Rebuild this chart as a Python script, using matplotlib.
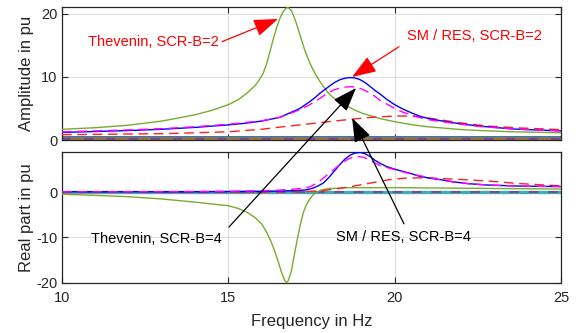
import matplotlib
matplotlib.use("Agg")
import matplotlib.pyplot as plt

plt.rcParams['font.family'] = ['Liberation Sans', 'DejaVu Sans']
plt.rcParams['axes.unicode_minus'] = False

# ---------------- data ----------------
# Amplitude (top)
f_thev2 = [10, 11, 12, 13, 14, 14.5, 15, 15.3, 15.55, 15.8, 15.9, 16.05, 16.15, 16.25, 16.35,
           16.45, 16.55, 16.65, 16.75, 16.8, 16.9, 17.0, 17.1, 17.2, 17.3, 17.45, 17.6, 17.75,
           17.9, 18.05, 18.3, 18.56, 18.8, 19.05, 19.3, 19.56, 20, 20.55, 21.0, 21.56, 22.0,
           22.56, 23.56, 25]
a_thev2 = [1.7, 1.95, 2.35, 3.0, 4.0, 4.7, 5.6, 6.4, 7.4, 8.6, 9.3, 10.6, 12.1, 14.0, 16.0,
           17.8, 19.3, 20.4, 20.95, 21.0, 20.5, 19.2, 17.6, 15.9, 14.2, 12.2, 10.6, 9.3,
           8.2, 7.2, 6.1, 5.4, 4.75, 4.2, 3.8, 3.4, 2.9, 2.4, 2.1, 1.85, 1.65,
           1.5, 1.3, 1.15]

f_sm2 = [10, 11, 12, 13, 14, 15, 15.5, 16, 16.55, 17.15, 17.45, 17.6, 17.75, 17.9, 18.05, 18.2,
         18.35, 18.5, 18.65, 18.8, 18.95, 19.1, 19.25, 19.4, 19.56, 19.75, 20.0, 20.25, 20.55,
         20.8, 21.1, 21.56, 22.0, 22.56, 23.0, 23.56, 24.2, 25]
a_sm2 = [1.2, 1.35, 1.5, 1.7, 2.0, 2.4, 2.65, 3.0, 3.6, 5.0, 6.1, 6.7, 7.4, 8.0, 8.6, 9.15,
         9.55, 9.8, 9.9, 9.85, 9.6, 9.15, 8.55, 7.9, 7.3, 6.5, 5.6, 4.9, 4.2,
         3.7, 3.3, 2.9, 2.55, 2.2, 2.0, 1.75, 1.6, 1.45]

f_res2 = [10, 11, 12, 13, 14, 15, 16, 16.55, 17.15, 17.45, 17.75, 17.95, 18.15, 18.35, 18.55,
          18.72, 18.9, 19.05, 19.2, 19.4, 19.56, 19.8, 20.0, 20.25, 20.55, 20.8, 21.1, 21.56,
          22.0, 22.56, 23.56, 25]
a_res2 = [1.3, 1.45, 1.6, 1.8, 2.1, 2.5, 3.05, 3.6, 4.8, 5.6, 6.6, 7.3, 7.9, 8.25, 8.42,
          8.45, 8.3, 8.0, 7.6, 6.95, 6.3, 5.6, 5.0, 4.4, 3.9, 3.5, 3.15, 2.8,
          2.5, 2.15, 1.75, 1.45]

f_red2 = [10, 11, 12, 13, 14, 15, 16, 16.8, 17.5, 18.0, 18.7, 19.3, 20, 20.5, 21, 21.5, 22,
          22.8, 23.8, 25]
a_red2 = [0.85, 0.9, 0.95, 1.0, 1.15, 1.3, 1.7, 2.2, 2.6, 2.9, 3.3, 3.6, 3.8, 3.8, 3.5, 3.1, 2.7,
          2.2, 1.9, 1.65]

f_flat = [10, 25]
a_flat_blue = [0.45, 0.45]
a_flat_brown = [0.12, 0.12]

# Real part (bottom)
f_thev4 = [10, 11, 12, 13, 14, 15, 15.3, 15.55, 15.8, 16.0, 16.1, 16.2, 16.3, 16.4, 16.5,
           16.6, 16.7, 16.75, 16.8, 16.9, 16.95, 17.05, 17.15, 17.25, 17.35, 17.45, 17.55,
           17.65, 17.8, 18.0, 18.56, 20, 21, 22.56, 25]
r_thev4 = [-0.45, -0.7, -1.0, -1.5, -2.2, -3.0, -3.6, -4.4, -5.6, -7.0, -8.2, -9.6, -11.2,
           -13.2, -15.4, -17.8, -19.6, -20.0, -19.6, -17.3, -15.2, -11.3, -7.6, -4.6, -2.7,
           -1.5, -0.6, 0.0, 0.5, 0.8, 1.0, 1.0, 0.95, 0.85, 0.7]

f_sm4 = [10, 12, 14, 15, 16, 16.5, 17.0, 17.3, 17.45, 17.6, 17.75, 17.85, 17.95, 18.05, 18.2,
         18.35, 18.5, 18.66, 18.8, 18.96, 19.1, 19.26, 19.4, 19.56, 19.75, 20.0, 20.25, 20.46,
         20.76, 21.05, 21.36, 21.76, 22.2, 22.76, 23.76, 25]
r_sm4 = [0.1, 0.1, 0.1, 0.15, 0.2, 0.25, 0.35, 0.5, 0.7, 1.05, 1.6, 2.0, 2.7, 3.5, 4.8,
         6.1, 7.3, 8.2, 8.65, 8.8, 8.55, 7.9, 7.1, 6.4, 5.7, 5.1, 4.6, 4.2,
         3.5, 3.1, 2.8, 2.3, 1.9, 1.6, 1.35, 1.25]

f_res4 = [10, 12, 14, 15, 16, 16.5, 17.0, 17.25, 17.45, 17.55, 17.65, 17.75, 17.85, 17.95,
          18.1, 18.25, 18.35, 18.5, 18.65, 18.8, 18.9, 19.05, 19.2, 19.35, 19.56, 19.8, 20.0,
          20.25, 20.5, 21.0, 21.4, 21.76, 22.2, 22.76, 23.76, 25]
r_res4 = [0.1, 0.1, 0.15, 0.2, 0.3, 0.45, 0.7, 0.9, 1.2, 1.55, 2.0, 2.5, 3.1, 3.7,
          4.6, 5.5, 6.1, 6.9, 7.5, 7.85, 7.9, 7.75, 7.35, 6.7, 5.9, 5.4, 5.0,
          4.5, 4.0, 3.3, 2.7, 2.25, 1.9, 1.6, 1.35, 1.25]

f_red4 = [10, 12, 14, 16, 17, 17.5, 17.85, 18.4, 18.96, 19.4, 19.86, 20.3, 20.9, 21.76, 22.76,
          23.76, 25]
r_red4 = [0.0, 0.0, 0.0, 0.05, 0.1, 0.2, 0.35, 0.9, 1.6, 2.2, 2.8, 3.1, 3.2, 2.9, 2.5,
          1.9, 1.4]

r_flat_teal = [0.05, 0.05]

x_ticks = [10, 15, 20, 25]
top_yticks = [0, 10, 20]
bot_yticks = [-20, -10, 0]

# ---------------- styling ----------------
GREEN = '#77ac30'
BLUE = '#0000ff'
MAG = '#ff00ff'
RED = '#ff2020'

fig = plt.figure(figsize=(5.81, 3.33), dpi=100)
W, H = 581, 333
ax1 = fig.add_axes([62 / W, 1 - 140 / H, 499 / W, 133 / H])
ax2 = fig.add_axes([62 / W, 1 - 283 / H, 499 / W, 131 / H])

dash = (0, (7, 4))

# top
ax1.plot(f_flat, a_flat_blue, color='#2a7fc2', lw=2.2, zorder=2)
ax1.plot(f_flat, a_flat_brown, color='#a0703f', lw=2.6, zorder=2)
ax1.plot(f_flat, a_flat_brown, color='#7e4a7e', lw=1.6, linestyle=(0, (4, 6)), zorder=2)
ax1.plot(f_thev2, a_thev2, color=GREEN, lw=1.0, zorder=3)
ax1.plot(f_red2, a_red2, color=RED, lw=1.0, linestyle=dash, zorder=3)
ax1.plot(f_sm2, a_sm2, color=BLUE, lw=1.0, zorder=4)
ax1.plot(f_res2, a_res2, color=MAG, lw=1.0, linestyle=dash, zorder=4)

# bottom
ax2.plot(f_flat, r_flat_teal, color='#45a9bd', lw=2.4, zorder=2)
ax2.plot(f_flat, r_flat_teal, color='#7e4a7e', lw=1.4, linestyle=(0, (5, 5)), zorder=2)
ax2.plot(f_thev4, r_thev4, color=GREEN, lw=1.0, zorder=3)
ax2.plot(f_red4, r_red4, color=RED, lw=1.0, linestyle=dash, zorder=3)
ax2.plot(f_sm4, r_sm4, color=BLUE, lw=1.0, zorder=4)
ax2.plot(f_res4, r_res4, color=MAG, lw=1.0, linestyle=dash, zorder=4)

for ax in (ax1, ax2):
    ax.set_xlim(10, 25)
    ax.set_xticks(x_ticks)
    ax.grid(True, color='#dedede', lw=0.8)
    ax.set_axisbelow(True)
    ax.tick_params(direction='in', length=4, top=True, right=True, labelsize=10.5,
                   colors='#262626', width=0.8)
    ax.tick_params(axis='x', pad=6)
    for s in ax.spines.values():
        s.set_color('#262626')
        s.set_linewidth(0.9)

ax1.set_ylim(0, 21.1)
ax1.set_yticks(top_yticks)
ax1.tick_params(labelbottom=False)
ax2.set_ylim(-20.1, 8.9)
ax2.set_yticks(bot_yticks)

ax1.set_ylabel('Amplitude in pu', fontsize=12, color='#262626')
ax2.set_ylabel('Real part in pu', fontsize=12, color='#262626')
ax1.yaxis.set_label_coords(-0.057, 0.5)
ax2.yaxis.set_label_coords(-0.057, 0.5)
ax2.set_xlabel('Frequency in Hz', fontsize=12, color='#262626', labelpad=6)

# ---------------- annotations ----------------
red_arrow = dict(arrowstyle='-|>,head_length=0.75,head_width=0.27', color='#ff0000',
                 lw=0.9, mutation_scale=20, shrinkA=0, shrinkB=0)
blk_arrow = dict(arrowstyle='-|>,head_length=0.75,head_width=0.27', color='black',
                 lw=0.9, mutation_scale=20, shrinkA=0, shrinkB=0)

ax1.text(14.72, 15.6, 'Thevenin, SCR-B=2', color='#ff0000', fontsize=10.5,
         ha='right', va='center')
ax1.annotate('', xy=(16.49, 19.2), xytext=(14.81, 15.6), arrowprops=red_arrow,
             annotation_clip=False)

ax1.text(20.36, 16.5, 'SM / RES, SCR-B=2', color='#ff0000', fontsize=10.5,
         ha='left', va='center')
ax1.annotate('', xy=(18.72, 10.0), xytext=(20.13, 14.8), arrowprops=red_arrow,
             annotation_clip=False)

ax2.text(10.86, -10.4, 'Thevenin, SCR-B=4', color='black', fontsize=10.5,
         ha='left', va='center', zorder=6)
ax2.annotate('', xy=(18.84, 8.25), xycoords=ax1.transData,
             xytext=(15.02, -7.7), textcoords=ax2.transData,
             arrowprops=blk_arrow, annotation_clip=False, zorder=6)

ax2.text(18.24, -9.9, 'SM / RES, SCR-B=4', color='black', fontsize=10.5,
         ha='left', va='center', zorder=6)
ax2.annotate('', xy=(18.72, 3.5), xycoords=ax1.transData,
             xytext=(20.28, -7.0), textcoords=ax2.transData,
             arrowprops=blk_arrow, annotation_clip=False, zorder=6)

fig.savefig('out.png', dpi=100)
